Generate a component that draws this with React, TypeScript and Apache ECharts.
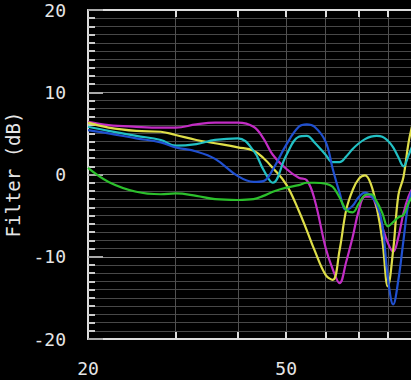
import React, { useEffect, useRef } from "react";
import * as echarts from "echarts";

const FREQS = [20, 22, 25, 28, 30, 33, 36, 40, 43, 45, 47, 50, 53, 55, 57, 60, 62, 64, 66, 68, 70, 72, 74, 76, 78, 80, 82, 84, 86, 88, 90];

const MAGENTA = [6.4, 6.0, 5.8, 5.7, 5.7, 6.1, 6.3, 6.3, 5.8, 4.4, 2.4, 0.7, -0.4, -0.7, -3.0, -8.9, -11.5, -13.2, -10.6, -7.6, -4.3, -2.7, -2.7, -4.1, -6.4, -8.3, -9.4, -7.6, -4.7, -2.7, -1.5];
const YELLOW = [6.3, 5.7, 5.3, 5.2, 4.8, 4.2, 3.8, 3.3, 2.9, 2.0, 0.8, -1.2, -4.4, -6.8, -9.2, -12.2, -12.8, -9.2, -4.3, -1.9, -0.5, -0.1, -1.2, -4.0, -8.0, -13.6, -9.2, -2.5, -0.3, 3.8, 6.5];
const CYAN = [5.8, 5.3, 4.7, 4.2, 3.5, 3.7, 4.2, 4.4, 2.9, 0.6, -1.0, 2.3, 4.6, 4.7, 3.9, 2.4, 1.5, 1.5, 2.2, 3.1, 3.8, 4.3, 4.6, 4.7, 4.6, 4.1, 3.3, 2.1, 1.0, 2.3, 3.8];
const BLUE = [5.4, 5.0, 4.4, 3.9, 3.3, 2.8, 1.9, -0.2, -0.9, -0.8, 0.6, 3.6, 5.8, 6.1, 5.8, 4.0, 0.7, -2.2, -4.3, -3.8, -2.7, -2.2, -2.6, -3.6, -6.1, -12.5, -15.8, -12.8, -8.0, -3.5, -1.5];
const GREEN = [0.8, -0.9, -2.1, -2.4, -2.3, -2.6, -3.0, -3.1, -3.0, -2.6, -2.1, -1.6, -1.3, -1.0, -1.0, -1.1, -1.5, -2.8, -4.3, -4.6, -3.5, -2.5, -2.4, -3.3, -4.7, -6.3, -5.8, -5.2, -4.9, -3.5, -2.5];

const X_MIN_FREQ = 20;
const X_MAX_FREQ = 200;
const GRID_FREQS = [30, 40, 50, 60, 70, 80, 90, 100];
const LABEL_FREQS = [20, 50];
const Y_TITLE = "Filter (dB)";

const SERIES = [
  { name: "magenta", values: MAGENTA, color: "#c22cc4" },
  { name: "yellow", values: YELLOW, color: "#dede48" },
  { name: "cyan", values: CYAN, color: "#22c0c4" },
  { name: "blue", values: BLUE, color: "#2050d0" },
  { name: "green", values: GREEN, color: "#2cc02c" },
];

const L = (f: number) => Math.log10(f);
const FONT = "DejaVu Sans Mono";

export default function App() {
  const ref = useRef<HTMLDivElement>(null);
  useEffect(() => {
    if (!ref.current) return;
    const chart = echarts.init(ref.current, null, { renderer: "svg" });
    const axisLine = { show: true, onZero: false, lineStyle: { color: "#dddddd", width: 2 } };
    const xCommon = {
      type: "value" as const,
      min: L(X_MIN_FREQ),
      max: L(X_MAX_FREQ),
    };
    chart.setOption({
      animation: false,
      backgroundColor: "#000000",
      grid: { left: 88, top: 10, width: 498, bottom: 41, containLabel: false, outerBoundsMode: "none" },
      xAxis: [
        {
          ...xCommon,
          position: "bottom",
          axisLine,
          axisTick: {
            show: true,
            inside: true,
            length: 7,
            customValues: GRID_FREQS.map(L),
            lineStyle: { color: "#dddddd", width: 2 },
          },
          axisLabel: {
            customValues: LABEL_FREQS.map(L),
            formatter: (v: number) => String(Math.round(Math.pow(10, v))),
            color: "#e6e6e6",
            fontFamily: FONT,
            fontSize: 18,
            margin: 20,
          },
          splitLine: { show: true, lineStyle: { color: "#505050", width: 1 } },
        },
        {
          ...xCommon,
          position: "top",
          axisLine,
          axisTick: {
            show: true,
            inside: true,
            length: 7,
            customValues: GRID_FREQS.map(L),
            lineStyle: { color: "#dddddd", width: 2 },
          },
          axisLabel: { show: false },
          splitLine: { show: false },
        },
      ],
      yAxis: {
        type: "value",
        min: -20,
        max: 20,
        interval: 10,
        axisLine,
        axisTick: { show: true, inside: true, length: 15, lineStyle: { color: "#aaaaaa", width: 2 } },
        minorTick: { show: true, splitNumber: 10, length: 7, lineStyle: { color: "#cccccc", width: 2 } },
        splitLine: { show: true, lineStyle: { color: "#808080", width: 1 } },
        minorSplitLine: { show: true, lineStyle: { color: "#484848", width: 1 } },
        axisLabel: { color: "#e6e6e6", fontFamily: FONT, fontSize: 18, margin: 22 },
        name: Y_TITLE,
        nameLocation: "middle",
        nameGap: 56,
        nameTextStyle: { color: "#e6e6e6", fontFamily: FONT, fontSize: 19 },
      },
      series: SERIES.map((s) => ({
        name: s.name,
        type: "line",
        xAxisIndex: 0,
        smooth: 0.4,
        showSymbol: false,
        symbol: "none",
        color: s.color,
        lineStyle: { color: s.color, width: 2.2 },
        data: FREQS.map((f, i) => [L(f), s.values[i]]),
      })),
    });
    return () => chart.dispose();
  }, []);
  return (
    <div style={{ position: "fixed", left: 0, top: 0, width: 411, height: 380, overflow: "hidden", background: "#000" }}>
      <div ref={ref} style={{ width: 606, height: 380 }} />
    </div>
  );
}
